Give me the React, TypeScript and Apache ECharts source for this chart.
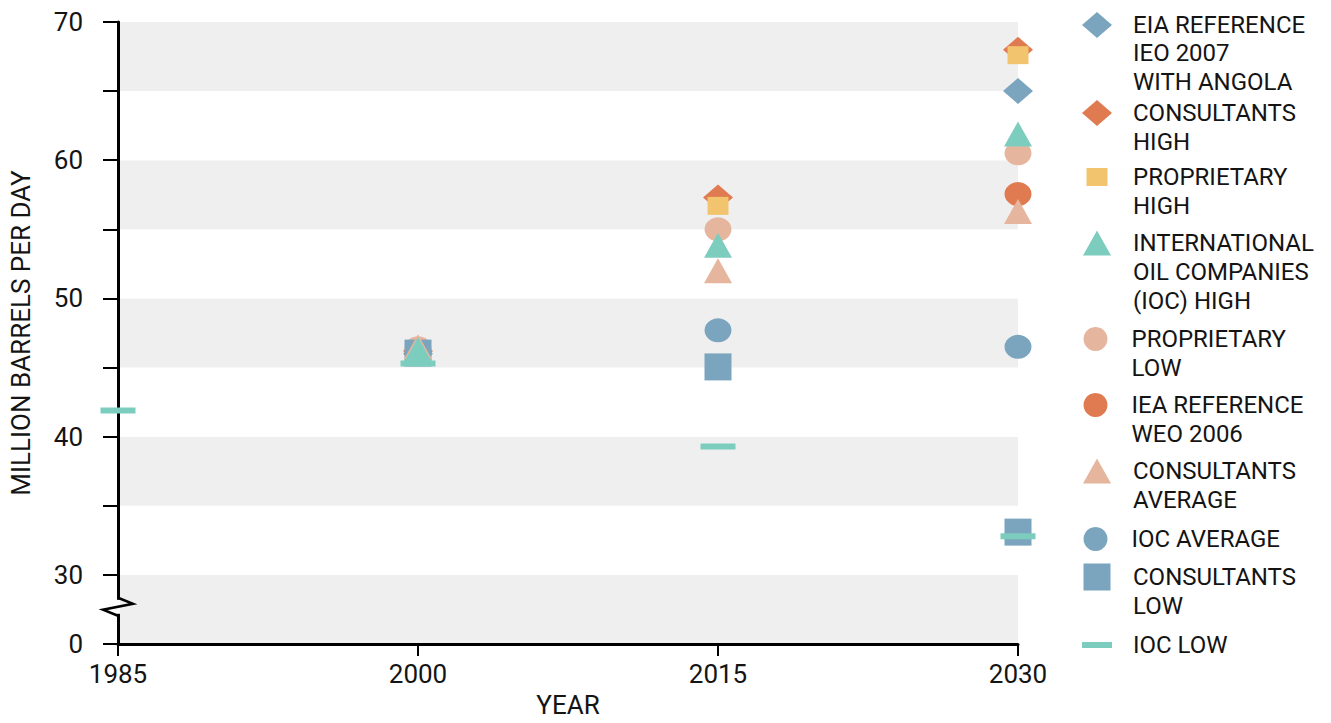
import React, { useEffect, useRef } from 'react';
import * as echarts from 'echarts';

const FONT = 'Roboto, "Noto Sans", sans-serif';

// x axis
const years = [1985, 2000, 2015, 2030];
// y axis: values 30..70 are real; the slot at 25 stands for 0 below the axis break
const yRealTicks = [30, 40, 50, 60, 70];
const ZERO_SLOT = 25;
const ZERO_LABEL = '0';
const BREAK_AT = 27.7;

// series (year, million barrels per day)
const eiaReference: [number, number][] = [[2000, 46.0], [2030, 65.0]];
const consultantsHigh: [number, number][] = [[2000, 46.2], [2015, 57.3], [2030, 68.0]];
const proprietaryHigh: [number, number][] = [[2015, 56.7], [2030, 67.6]];
const iocHigh: [number, number][] = [[2000, 46.3], [2015, 53.85], [2030, 61.9]];
const proprietaryLow: [number, number][] = [[2000, 46.4], [2015, 55.0], [2030, 60.5]];
const ieaReference: [number, number][] = [[2000, 46.1], [2030, 57.55]];
const consultantsAverage: [number, number][] = [[2000, 46.5], [2015, 52.0], [2030, 56.3]];
const iocAverage: [number, number][] = [[2015, 47.7], [2030, 46.5]];
const consultantsLow: [number, number][] = [[2000, 46.05], [2015, 45.05], [2030, 33.1]];
const iocLow: [number, number][] = [[1985, 41.9], [2000, 45.3], [2015, 39.3], [2030, 32.8]];

const seriesNames = [
  'EIA REFERENCE IEO 2007 WITH ANGOLA',
  'CONSULTANTS HIGH',
  'PROPRIETARY HIGH',
  'INTERNATIONAL OIL COMPANIES (IOC) HIGH',
  'PROPRIETARY LOW',
  'IEA REFERENCE WEO 2006',
  'CONSULTANTS AVERAGE',
  'IOC AVERAGE',
  'CONSULTANTS LOW',
  'IOC LOW',
];
const legendLines = [
  ['EIA REFERENCE', 'IEO 2007', 'WITH ANGOLA'],
  ['CONSULTANTS', 'HIGH'],
  ['PROPRIETARY', 'HIGH'],
  ['INTERNATIONAL', 'OIL COMPANIES', '(IOC) HIGH'],
  ['PROPRIETARY', 'LOW'],
  ['IEA REFERENCE', 'WEO 2006'],
  ['CONSULTANTS', 'AVERAGE'],
  ['IOC AVERAGE'],
  ['CONSULTANTS', 'LOW'],
  ['IOC LOW'],
];
const seriesData = [
  eiaReference, consultantsHigh, proprietaryHigh, iocHigh, proprietaryLow,
  ieaReference, consultantsAverage, iocAverage, consultantsLow, iocLow,
];

const BLUE = '#7BA5BE';
const ORANGE = '#E07A50';
const YELLOW = '#F2C46E';
const TEAL = '#7DCDBF';
const PEACH = '#E6B59D';

const symbols = ['diamond', 'diamond', 'rect', 'triangle', 'circle', 'circle', 'triangle', 'circle', 'rect', 'rect'];
const colors = [BLUE, ORANGE, YELLOW, TEAL, PEACH, ORANGE, PEACH, BLUE, BLUE, TEAL];
const sizes: [number, number][] = [
  [30, 26], [30, 26], [21, 18], [28, 25], [27, 24], [27, 24], [28, 25], [27, 24], [27, 27], [35, 6],
];
const legendSizes: [number, number][] = [
  [30, 26], [30, 26], [21, 18], [28, 25], [27, 24], [27, 24], [28, 25], [27, 24], [27, 27], [30, 6],
];
const zLevels = [2, 2, 2, 5, 2, 2, 3, 2, 2, 3];

// legend layout
const LEGEND_SYMBOL_X = 1097;
const LEGEND_TEXT_X = 1133;
const legendLineHeights = [28.3, 29, 29, 29, 29, 29, 29, 29, 29, 29];
const legendFirstLineY = [25, 113, 177, 243, 339, 405, 471, 539, 577, 645];

export default function App() {
  const ref = useRef<HTMLDivElement>(null);

  useEffect(() => {
    if (!ref.current) return;
    const chart = echarts.init(ref.current, undefined, { renderer: 'svg' });

    const legends = seriesNames.map((name, i) => {
      const n = legendLines[i].length;
      const [w, h] = legendSizes[i];
      const lh = legendLineHeights[i];
      return {
        data: [name],
        orient: 'vertical',
        left: LEGEND_SYMBOL_X - w / 2,
        top: legendFirstLineY[i] - (n - 1) * lh - lh / 2,
        itemWidth: w,
        itemHeight: h,
        padding: 0,
        selectedMode: false,
        formatter: () => '\n'.repeat(n - 1) + legendLines[i].join('\n'),
        textStyle: {
          fontFamily: FONT,
          fontSize: 24,
          lineHeight: lh,
          color: '#141414',
          padding: [0, 0, 0, LEGEND_TEXT_X - LEGEND_SYMBOL_X - w / 2 - 5],
        },
      };
    });

    const series = seriesNames.map((name, i) => ({
      type: 'scatter',
      name,
      data: seriesData[i],
      symbol: symbols[i],
      symbolSize: sizes[i],
      itemStyle: { color: colors[i], opacity: 1 },
      z: zLevels[i],
      emphasis: { disabled: true },
    }));

    chart.setOption({
      animation: false,
      backgroundColor: '#ffffff',
      grid: { left: 118, right: 313, top: 22, bottom: 77, containLabel: false },
      legend: legends,
      xAxis: {
        type: 'value',
        min: years[0],
        max: years[years.length - 1],
        interval: years[1] - years[0],
        name: 'YEAR',
        nameLocation: 'middle',
        nameGap: 47,
        nameTextStyle: { fontFamily: FONT, fontSize: 26, color: '#141414' },
        axisLine: { show: true, onZero: false, lineStyle: { color: '#000', width: 3 } },
        axisTick: { show: true, length: 12, lineStyle: { color: '#000', width: 2 } },
        axisLabel: {
          fontFamily: FONT,
          fontSize: 26,
          color: '#141414',
          margin: 17,
          formatter: (v: number) => String(v),
        },
        splitLine: { show: false },
      },
      yAxis: {
        type: 'value',
        min: ZERO_SLOT,
        max: yRealTicks[yRealTicks.length - 1],
        interval: 5,
        name: 'MILLION BARRELS PER DAY',
        nameLocation: 'middle',
        nameRotate: 90,
        nameGap: 84,
        nameTextStyle: { fontFamily: FONT, fontSize: 26, color: '#141414' },
        axisLine: { show: true, onZero: false, lineStyle: { color: '#000', width: 3 } },
        axisTick: { show: true, length: 15, lineStyle: { color: '#000', width: 2 } },
        axisLabel: {
          fontFamily: FONT,
          fontSize: 26,
          color: '#141414',
          margin: 35,
          formatter: (v: number) =>
            v === ZERO_SLOT ? ZERO_LABEL : yRealTicks.includes(v) ? String(v) : '',
        },
        splitLine: { show: false },
        splitArea: { show: true, areaStyle: { color: ['#efefef', '#ffffff'] } },
      },
      series,
    });

    // axis-break zigzag on the y axis line
    const x0 = chart.convertToPixel({ xAxisIndex: 0 }, years[0]) as number;
    const yb = chart.convertToPixel({ yAxisIndex: 0 }, BREAK_AT) as number;
    chart.setOption({
      graphic: [
        {
          type: 'rect',
          shape: { x: x0 - 2.5, y: yb - 7, width: 4.5, height: 14 },
          style: { fill: '#ffffff' },
          z: 100,
        },
        {
          type: 'polyline',
          shape: {
            points: [
              [x0, yb - 9],
              [x0 + 15, yb - 3],
              [x0 - 15, yb + 3],
              [x0, yb + 9],
            ],
          },
          style: { stroke: '#000', lineWidth: 2.5, fill: null },
          z: 101,
        },
      ],
    });

    return () => chart.dispose();
  }, []);

  return (
    <div
      ref={ref}
      style={{ position: 'fixed', left: 0, top: 0, width: 1331, height: 723, background: '#fff' }}
    />
  );
}
